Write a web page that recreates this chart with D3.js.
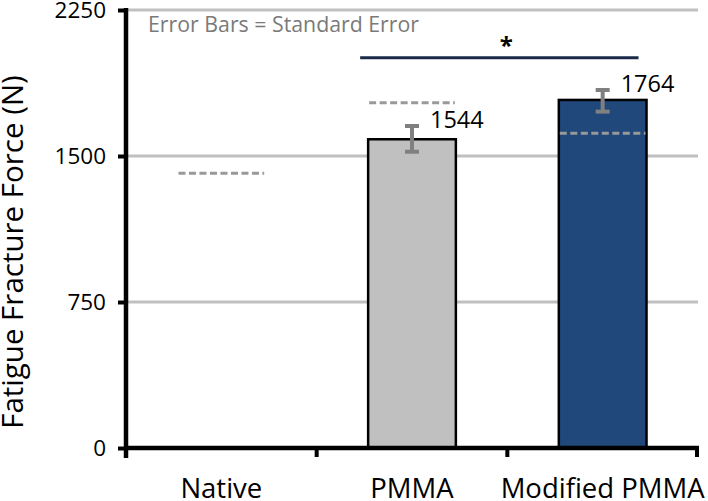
<!DOCTYPE html>
<html><head><meta charset="utf-8">
<script src="https://d3js.org/d3.v7.min.js"></script>
<style>body{margin:0;background:#fff}svg{display:block}text{font-family:"Open Sans",sans-serif}</style>
</head><body>
<script>
const categories = ["Native", "PMMA", "Modified PMMA"];
const barValues = [null, 1586, 1788];
const barLabels = [null, "1544", "1764"];
const errLow = [null, 1522, 1728];
const errHigh = [null, 1654, 1839];
const refValues = [1411, 1774, 1617];
const barColors = [null, "#c0c0c0", "#21487a"];
const yTicks = [0, 750, 1500, 2250];
const gridTicks = [750, 1500, 2250];
const sigPair = ["PMMA", "Modified PMMA"];
const sigValue = 2005;

const W = 708, H = 501;
const svg = d3.select("body").append("svg").attr("width", W).attr("height", H);
const y = d3.scaleLinear().domain([0, 2250]).range([448, 10]);
const x = d3.scaleBand().domain(categories).range([126, 698]).padding(0);
const bw = x.bandwidth() * 0.46;

// gridlines
svg.append("g").selectAll("line").data(gridTicks).join("line")
  .attr("x1", 128).attr("x2", 698).attr("y1", d => y(d)).attr("y2", d => y(d))
  .attr("stroke", "#c0c0c0").attr("stroke-width", 3);

// footnote
svg.append("text").attr("x", 148).attr("y", 32).attr("fill", "#7a7a7a")
  .attr("font-size", 21.3).text("Error Bars = Standard Error");

// bars
categories.forEach((c, i) => {
  if (barValues[i] == null) return;
  svg.append("rect").attr("x", x(c) + (x.bandwidth() - bw) / 2).attr("y", y(barValues[i]))
    .attr("width", bw).attr("height", y(0) - y(barValues[i]))
    .attr("fill", barColors[i]).attr("stroke", "#000").attr("stroke-width", 2.5);
});

// reference dashed lines
svg.append("g").selectAll("line").data(categories).join("line")
  .attr("x1", d => x(d) + (x.bandwidth() - bw) / 2 + 1)
  .attr("x2", d => x(d) + (x.bandwidth() + bw) / 2 - 1)
  .attr("y1", (d, i) => y(refValues[i])).attr("y2", (d, i) => y(refValues[i]))
  .attr("stroke", "#999").attr("stroke-width", 3).attr("stroke-dasharray", "7,3.5");

// error bars
categories.forEach((c, i) => {
  if (errLow[i] == null) return;
  const cx = x(c) + x.bandwidth() / 2;
  const g = svg.append("g").attr("stroke", "#808080").attr("stroke-width", 4);
  g.append("line").attr("x1", cx).attr("x2", cx).attr("y1", y(errHigh[i])).attr("y2", y(errLow[i]));
  g.append("line").attr("x1", cx - 7).attr("x2", cx + 7).attr("y1", y(errHigh[i])).attr("y2", y(errHigh[i]));
  g.append("line").attr("x1", cx - 7).attr("x2", cx + 7).attr("y1", y(errLow[i])).attr("y2", y(errLow[i]));
  svg.append("text").attr("x", cx + 18).attr("y", y(errHigh[i]) + 2)
    .attr("font-size", 23.5).attr("fill", "#000").text(barLabels[i]);
});

// significance
const sx1 = x(sigPair[0]) + (x.bandwidth() - bw) / 2 - 8;
const sx2 = x(sigPair[1]) + (x.bandwidth() + bw) / 2 - 8;
svg.append("line").attr("x1", sx1).attr("x2", sx2).attr("y1", y(sigValue)).attr("y2", y(sigValue))
  .attr("stroke", "#1a2a48").attr("stroke-width", 3);
svg.append("text").attr("x", (x(sigPair[0]) + x(sigPair[1]) + x.bandwidth()) / 2 - 1).attr("y", y(sigValue) - 4)
  .attr("text-anchor", "middle").attr("font-size", 24).attr("font-weight", "bold").text("*");

// y axis
const yAxis = svg.append("g").attr("transform", "translate(126,0)")
  .call(d3.axisLeft(y).tickValues(yTicks).tickSize(8).tickFormat(d3.format("d")));
yAxis.select(".domain").remove();
yAxis.selectAll(".tick line").attr("stroke", "#000").attr("stroke-width", 4);
yAxis.selectAll(".tick text").attr("font-size", 22.5).attr("fill", "#000").attr("x", -20)
  .attr("dy", "0.34em").attr("font-family", "Open Sans");
svg.append("line").attr("x1", 126).attr("x2", 126).attr("y1", 8).attr("y2", 458)
  .attr("stroke", "#000").attr("stroke-width", 4.5);

// x axis
svg.append("line").attr("x1", 124).attr("x2", 699).attr("y1", y(0)).attr("y2", y(0))
  .attr("stroke", "#000").attr("stroke-width", 4.5);
const bounds = categories.map(c => x(c)).concat([x(categories[categories.length - 1]) + x.bandwidth()]);
svg.append("g").selectAll("line").data(bounds.slice(1)).join("line")
  .attr("x1", d => Math.min(d, 697)).attr("x2", d => Math.min(d, 697)).attr("y1", y(0)).attr("y2", y(0) + 9)
  .attr("stroke", "#000").attr("stroke-width", 4);
const xAxis = svg.append("g").attr("transform", `translate(0,${y(0)})`)
  .call(d3.axisBottom(x).tickSize(0).tickPadding(0));
xAxis.select(".domain").remove();
xAxis.selectAll(".tick text").attr("font-size", 27.5).attr("fill", "#000").attr("dy", 0).attr("y", 50)
  .attr("font-family", "Open Sans");

// y title
svg.append("text").attr("transform", "translate(23,252) rotate(-90)").attr("text-anchor", "middle")
  .attr("font-size", 29.5).attr("fill", "#000").text("Fatigue Fracture Force (N)");
</script>
</body></html>
